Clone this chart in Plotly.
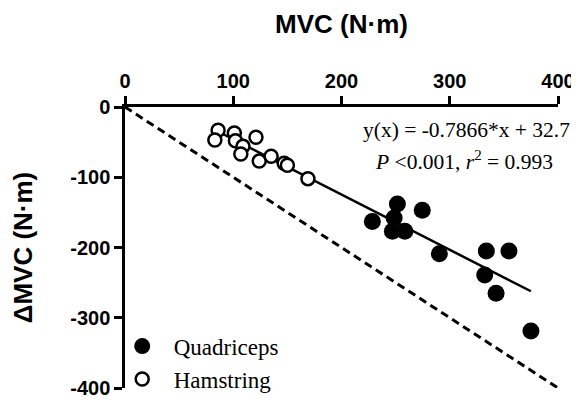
import plotly.graph_objects as go

# Data
quad_x = [228.5, 251.6, 248.6, 247.0, 258.5, 274.6, 290.4, 333.8, 354.7, 332.3, 342.8, 375.0]
quad_y = [-163, -138, -158, -177, -177, -147, -209, -205, -205, -239, -265, -319]
ham_x = [86, 83, 101, 102, 109, 107, 121, 124, 135, 147, 150, 169]
ham_y = [-33, -47, -37, -48, -56, -67, -43, -77, -70, -80, -83, -102]

slope = -0.7866
intercept = 32.7
fit_x = [85, 375]
fit_y = [slope * v + intercept for v in fit_x]

ident_x = [0, 400]
ident_y = [0, -400]

x_ticks = [0, 100, 200, 300, 400]
x_ticktext = ["0", "100", "200", "300", "400"]
y_ticks = [0, -100, -200, -300, -400]
y_ticktext = ["0", "-100", "-200", "-300", "-400"]

SANS = "Liberation Sans, Arial, sans-serif"
SERIF = "Liberation Serif, Times New Roman, serif"

fig = go.Figure()

fig.add_trace(go.Scatter(x=ident_x, y=ident_y, mode="lines",
                         line=dict(color="black", width=3, dash="8px,5px"),
                         showlegend=False, hoverinfo="skip"))
fig.add_trace(go.Scatter(x=fit_x, y=fit_y, mode="lines",
                         line=dict(color="black", width=2.5),
                         showlegend=False, hoverinfo="skip"))
fig.add_trace(go.Scatter(x=quad_x, y=quad_y, mode="markers", name="Quadriceps",
                         legendgroup="q",
                         marker=dict(symbol="circle", size=17, color="black",
                                     line=dict(width=0))))
fig.add_trace(go.Scatter(x=ham_x, y=ham_y, mode="markers", name="Hamstring",
                         legendgroup="h",
                         marker=dict(symbol="circle", size=13, color="white",
                                     line=dict(width=2.5, color="black"))))

fig.add_annotation(text="y(x) = -0.7866*x + 32.7", xref="paper", yref="paper",
                   x=1.0, y=0.918, xanchor="right", yanchor="middle", showarrow=False,
                   xshift=14,
                   font=dict(family=SERIF, size=21.5, color="black"))
fig.add_annotation(text="<i>P</i> &lt;0.001, <i>r</i><sup>2</sup> = 0.993", xref="paper", yref="paper",
                   x=1.0, y=0.808, xanchor="right", yanchor="middle", showarrow=False,
                   xshift=-3,
                   font=dict(family=SERIF, size=21.5, color="black"))

axis_common = dict(showgrid=False, zeroline=False, showline=True, linecolor="black",
                   linewidth=2.5, ticks="outside", ticklen=8, tickwidth=2.5, tickcolor="black",
                   tickfont=dict(family=SANS, size=20, color="black", weight="bold"))

fig.update_xaxes(range=[0, 400], side="top", tickvals=x_ticks, ticktext=x_ticktext,
                 title=dict(text="MVC (N·m)", standoff=30,
                            font=dict(family=SANS, size=26, color="black", weight="bold")),
                 **axis_common)
fig.update_yaxes(range=[-400, 0], tickvals=y_ticks, ticktext=y_ticktext,
                 title=dict(text="ΔMVC (N·m)", standoff=32,
                            font=dict(family=SANS, size=26, color="black", weight="bold")),
                 **axis_common)

fig.update_layout(
    width=579, height=405,
    margin=dict(l=114, r=20, t=99, b=13),
    paper_bgcolor="white", plot_bgcolor="white",
    legend=dict(x=-0.033, y=-0.045, xanchor="left", yanchor="bottom",
                font=dict(family=SERIF, size=23, color="black"),
                bgcolor="rgba(0,0,0,0)", tracegroupgap=0, itemwidth=53),
)

fig.write_html("out.html")
